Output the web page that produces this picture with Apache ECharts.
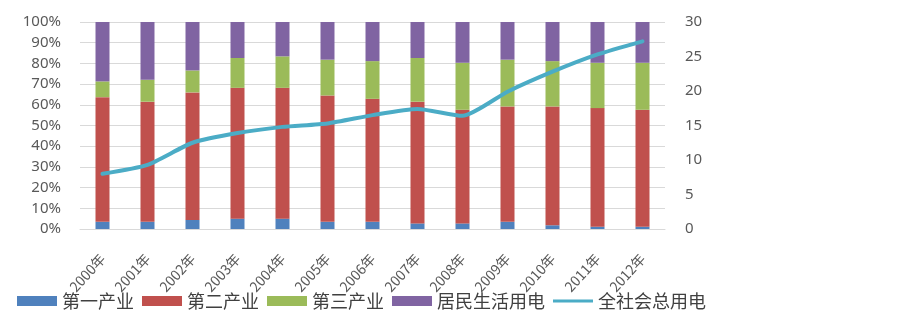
<!DOCTYPE html>
<html>
<head>
<meta charset="utf-8">
<script src="https://cdn.jsdelivr.net/npm/echarts@6/dist/echarts.min.js"></script>
<style>
  html, body { margin: 0; padding: 0; background: #fff; }
  #chart { width: 903px; height: 326px; }
</style>
</head>
<body>
<div id="chart"></div>
<script>
const years = ['2000年', '2001年', '2002年', '2003年', '2004年', '2005年', '2006年',
  '2007年', '2008年', '2009年', '2010年', '2011年', '2012年'];
// 各产业用电占比（%）
const primary = [3.5, 3.5, 4.4, 5.0, 5.0, 3.5, 3.5, 2.7, 2.7, 3.5, 1.8, 1.1, 1.1];
const secondary = [60.2, 58.0, 61.6, 63.2, 63.2, 61.0, 59.4, 58.8, 54.9, 55.7, 57.4, 57.3, 56.5];
const tertiary = [7.6, 10.6, 10.6, 14.4, 15.2, 17.3, 18.2, 21.1, 22.7, 22.6, 21.9, 21.9, 22.7];
const residential = [28.7, 27.9, 23.4, 17.4, 16.6, 18.2, 18.9, 17.4, 19.7, 18.2, 18.9, 19.7, 19.7];
// 全社会总用电（右轴）
const total = [8.0, 9.3, 12.5, 13.9, 14.8, 15.3, 16.5, 17.4, 16.4, 19.9, 22.8, 25.3, 27.2];

const chart = echarts.init(document.getElementById('chart'));

const axisText = {
  color: '#595959',
  fontSize: 15,
  fontFamily: 'Noto Sans, sans-serif'
};

const bar = (name, data, color) => ({
  name,
  type: 'bar',
  stack: 'share',
  barWidth: 14,
  data,
  itemStyle: { color },
  emphasis: { disabled: true }
});

chart.setOption({
  animation: false,
  grid: {
    left: 80,
    right: 238,
    top: 22,
    bottom: 97
  },
  legend: {
    left: 12,
    top: 287,
    itemWidth: 40,
    itemHeight: 10,
    itemGap: 8,
    textStyle: {
      color: '#404040',
      fontSize: 18,
      fontFamily: 'Noto Sans CJK SC'
    },
    data: [
      { name: '第一产业', icon: 'rect' },
      { name: '第二产业', icon: 'rect' },
      { name: '第三产业', icon: 'rect' },
      { name: '居民生活用电', icon: 'rect' },
      {
        name: '全社会总用电',
        icon: 'path://M0,0H40V3H0Z',
        itemStyle: { color: '#4BACC6', borderWidth: 0 }
      }
    ]
  },
  xAxis: {
    type: 'category',
    data: years,
    axisTick: { show: false },
    axisLine: {
      lineStyle: { color: '#D9D9D9', width: 1 }
    },
    axisLabel: {
      interval: 0,
      rotate: 48,
      margin: 27,
      color: '#595959',
      fontSize: 14,
      fontFamily: 'Noto Sans CJK SC'
    }
  },
  yAxis: [{
    type: 'value',
    min: 0,
    max: 100,
    interval: 10,
    axisLabel: Object.assign({ formatter: '{value}%', margin: 19 }, axisText),
    axisLine: { show: false },
    splitLine: {
      lineStyle: { color: '#D9D9D9', width: 1 }
    }
  }, {
    type: 'value',
    min: 0,
    max: 30,
    interval: 5,
    axisLabel: Object.assign({ margin: 20 }, axisText),
    axisLine: { show: false },
    splitLine: { show: false }
  }],
  series: [
    bar('第一产业', primary, '#4F81BD'),
    bar('第二产业', secondary, '#C0504D'),
    bar('第三产业', tertiary, '#9BBB59'),
    bar('居民生活用电', residential, '#8064A2'),
    {
      name: '全社会总用电',
      type: 'line',
      yAxisIndex: 1,
      data: total,
      symbol: 'none',
      smooth: 0.2,
      color: '#4BACC6',
      lineStyle: {
        width: 4,
        color: '#4BACC6',
        join: 'round',
        cap: 'round'
      },
      emphasis: { disabled: true }
    }
  ]
});
</script>
</body>
</html>
